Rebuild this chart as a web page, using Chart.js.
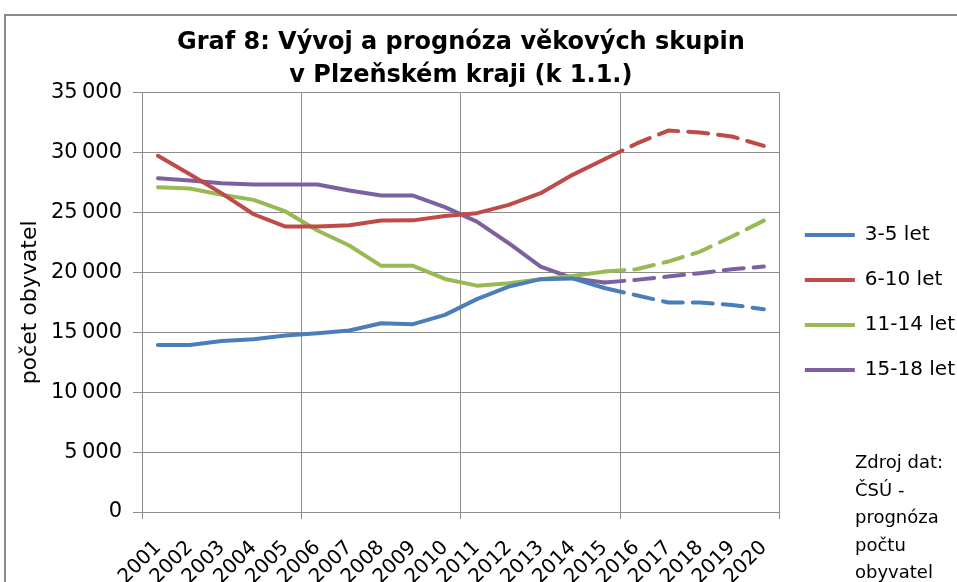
<!DOCTYPE html>
<html>
<head>
<meta charset="utf-8">
<script src="https://cdn.jsdelivr.net/npm/chart.js@4/dist/chart.umd.min.js"></script>
<style>
  body { margin: 0; background: #fff; overflow: hidden; width: 957px; height: 582px; position: relative; }
  #frame { position: absolute; left: 4px; top: 14px; width: 1200px; height: 800px; border: 2px solid #8a8a8a; }
  #wrap { position: absolute; left: 0; top: 0; width: 990px; height: 605px; }
  #src { position: absolute; left: 855px; top: 448px; font: 18px "DejaVu Sans"; line-height: 27.5px; color: #000; }
</style>
</head>
<body>
<div id="frame"></div>
<div id="wrap"><canvas id="graf" width="990" height="605"></canvas></div>
<div id="src">Zdroj dat:<br>ČSÚ -<br>prognóza<br>počtu<br>obyvatel</div>
<script>
const years = ["2001", "2002", "2003", "2004", "2005", "2006", "2007", "2008", "2009", "2010",
               "2011", "2012", "2013", "2014", "2015", "2016", "2017", "2018", "2019", "2020"];

const age3to5 = [13950, 13950, 14280, 14420, 14730, 14920, 15150, 15760, 15680, 16460,
                 17770, 18820, 19440, 19500, 18700, 18100, 17490, 17490, 17290, 16930];
const age6to10 = [29740, 28200, 26600, 24860, 23830, 23830, 23950, 24330, 24350, 24720,
                  24950, 25640, 26620, 28150, 29450, 30750, 31850, 31690, 31350, 30570];
const age11to14 = [27120, 27010, 26480, 26060, 25090, 23500, 22250, 20550, 20550, 19460,
                   18900, 19100, 19440, 19710, 20070, 20270, 20910, 21740, 23000, 24330];
const age15to18 = [27870, 27680, 27450, 27340, 27340, 27340, 26840, 26420, 26420, 25450,
                   24250, 22440, 20490, 19520, 19160, 19380, 19660, 19940, 20270, 20490];

const seriesNames = ["3-5 let", "6-10 let", "11-14 let", "15-18 let"];
const seriesColors = ["#4a7ebb", "#be4b48", "#98b954", "#7d60a0"];
// prognóza začíná po roce 2015 (index 14)
const lastActual = 14;

const gridColor = "#8c8c8c";
const fmt = v => String(v).replace(/\B(?=(\d{3})+(?!\d))/g, "\u2009");

Chart.defaults.font.family = "'DejaVu Sans'";
Chart.defaults.color = "#000";

const seriesData = [age3to5, age6to10, age11to14, age15to18];
const datasets = seriesData.map((d, i) => ({
  label: seriesNames[i],
  data: d,
  borderColor: seriesColors[i],
  backgroundColor: seriesColors[i],
  pointBorderWidth: 4,
  segment: {
    borderDash: ctx => ctx.p0DataIndex >= lastActual ? [20, 10] : undefined
  }
}));

const ctx = document.getElementById("graf").getContext("2d");
const chart = new Chart(ctx, {
  type: "line",
  data: { labels: years, datasets: datasets },
  options: {
    responsive: false,
    animation: false,
    layout: { padding: { left: 0, right: 25, top: 0, bottom: 0 } },
    elements: {
      point: { radius: 0 },
      line: { borderWidth: 4, tension: 0, borderCapStyle: "round", borderJoinStyle: "round" }
    },
    plugins: {
      title: {
        display: true,
        fullSize: false,
        text: ["Graf 8: Vývoj a prognóza věkových skupin", "v Plzeňském kraji (k 1.1.)"],
        font: { size: 24, weight: "bold", lineHeight: 1.35 },
        color: "#000",
        padding: { top: 27, bottom: 1 }
      },
      legend: {
        position: "right",
        labels: {
          usePointStyle: true,
          pointStyle: "line",
          pointStyleWidth: 50,
          padding: 25,
          font: { size: 20 },
          color: "#000"
        }
      },
      tooltip: { enabled: false }
    },
    scales: {
      x: {
        offset: true,
        grid: {
          offset: true,
          color: c => (c.index === undefined || c.index % 5 === 0) ? gridColor : "rgba(0,0,0,0)",
          tickLength: 7
        },
        border: { color: gridColor },
        ticks: { minRotation: 45, maxRotation: 45, autoSkip: false, font: { size: 20 }, padding: 17 },
        afterFit: s => { s.height = 93; }
      },
      y: {
        min: 0,
        max: 35000,
        ticks: { stepSize: 5000, callback: v => fmt(v), font: { size: 21 }, padding: 11 },
        grid: { color: gridColor, tickLength: 9 },
        border: { color: gridColor },
        title: {
          display: true,
          text: "počet obyvatel",
          font: { size: 22 },
          padding: { top: 17, bottom: 0 }
        },
        afterFit: s => { s.width = 142; }
      }
    }
  }
});
</script>
</body>
</html>
